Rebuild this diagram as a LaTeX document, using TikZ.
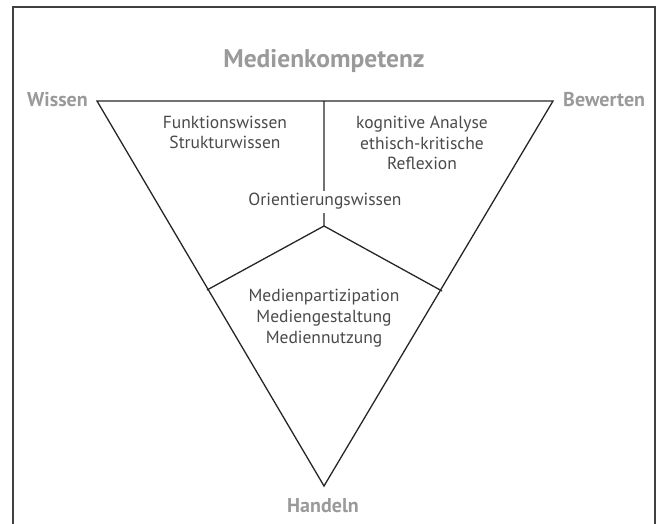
\documentclass[tikz,border=0pt]{standalone}
\usepackage{fontspec}
\setmainfont{PT Sans}
\definecolor{titlegray}{HTML}{9A9A9A}
\definecolor{textgray}{HTML}{4A4A4A}
\tikzset{
  heading/.style={font=\fontsize{25.5}{28}\selectfont\bfseries, text=titlegray, inner sep=0pt, anchor=base},
  corner/.style={font=\fontsize{20}{22}\selectfont\bfseries, text=titlegray, inner sep=0pt},
  field/.style={font=\fontsize{17.5}{20.7}\selectfont, text=textgray, align=center, inner sep=0pt, anchor=base},
  edge/.style={line width=1.3pt, black!85}
}
\begin{document}
\begin{tikzpicture}[x=1pt,y=-1pt]

            \useasboundingbox (0,0) rectangle (662,524);
            \draw[line width=1.2pt, black!75] (13,524) -- (13,7) -- (655,7) -- (655,524);

            % corners of the triangle
            \coordinate (wissen) at (97,101);
            \coordinate (bewerten) at (553,101);
            \coordinate (handeln) at (324,486);
            \coordinate (top) at (324,101);
            \coordinate (mitte) at (324,226);
            \coordinate (links) at (207,290);
            \coordinate (rechts) at (442,291);

            \draw[edge] (wissen) -- (bewerten) -- (handeln) -- cycle;
            \draw[edge] (top) -- (mitte) -- (links);
            \draw[edge] (mitte) -- (rechts);

            \node[heading] (titel) at (324,68) {Medienkompetenz};
            \node[corner, anchor=base east] (lwissen) at (88,107) {Wissen};
            \node[corner, anchor=base west] (lbewerten) at (563,107) {Bewerten};
            \node[corner, anchor=base] (lhandeln) at (323,512) {Handeln};

            % base anchor = baseline of the last line
            \node[field] (wissenfeld) at (225,149) {Funktionswissen\\Strukturwissen};
            \node[field] (bewertenfeld) at (422,170) {kognitive Analyse\\ethisch-kritische\\Reflexion};
            \node[field, fill=white, inner ysep=3pt] (orientierung) at (325,206) {Orientierungswissen};
            \node[field] (handelnfeld) at (324,343) {Medienpartizipation\\Mediengestaltung\\Mediennutzung};
        \end{tikzpicture}
\end{document}
